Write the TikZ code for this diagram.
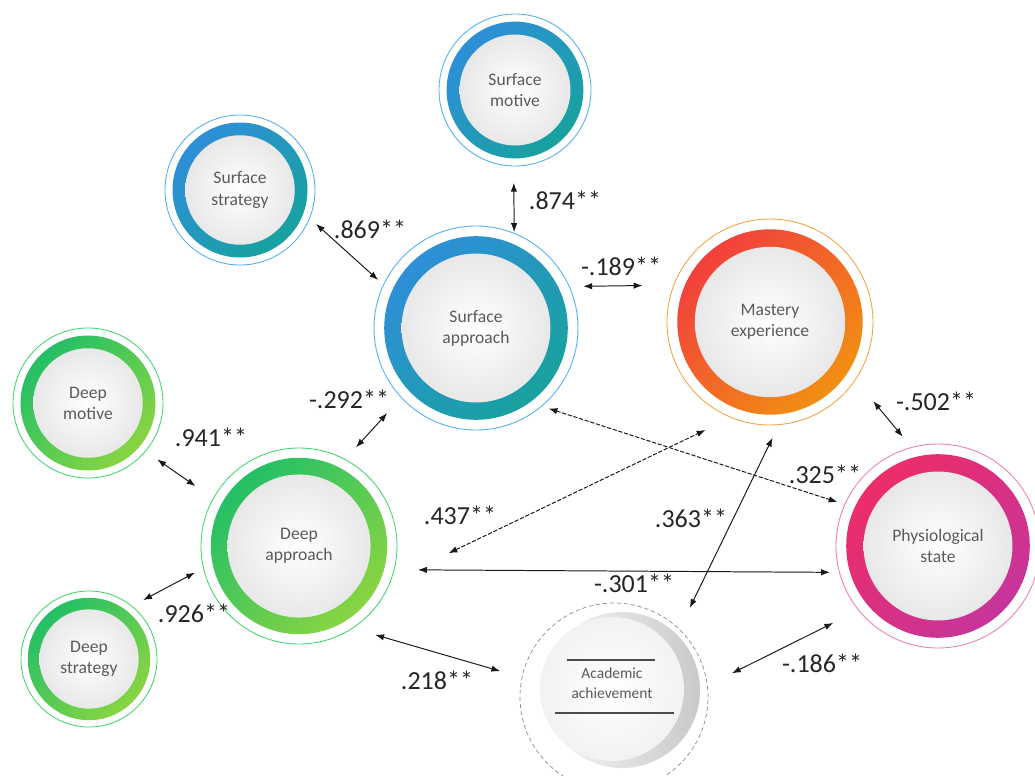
\documentclass[tikz,border=0pt]{standalone}
\usepackage{fontspec}
\setmainfont{Carlito}
\usetikzlibrary{arrows.meta}
\definecolor{txtgray}{HTML}{5A5A5A}
\definecolor{sfthin}{HTML}{4DB0F0}
\definecolor{sfA}{HTML}{2F8EDB}
\definecolor{sfB}{HTML}{17A39B}
\definecolor{dpthin}{HTML}{3ED66C}
\definecolor{dpA}{HTML}{1EBE68}
\definecolor{dpB}{HTML}{8FD640}
\definecolor{msthin}{HTML}{F5A23C}
\definecolor{msA}{HTML}{F23B3F}
\definecolor{msB}{HTML}{F2940F}
\definecolor{phthin}{HTML}{F27BB0}
\definecolor{phA}{HTML}{EE2C66}
\definecolor{phB}{HTML}{C4359E}

\begin{document}
\begin{tikzpicture}[x=0.025cm, y=-0.025cm,
  bub/.style n args={4}{circle, draw=#1, line width=0.6pt, minimum size={2*#2*0.025cm},
              inner sep=0pt, outer sep=0pt, align=center, text=txtgray,
              font=\fontsize{12.5}{15}\selectfont,
              path picture={
                \shade[left color=#3, right color=#4, shading angle=45]
                  (path picture bounding box.center) circle[radius={0.9*#2*0.025cm}];
                \shade[inner color=white, outer color=black!9]
                  (path picture bounding box.center) circle[radius={0.73*#2*0.025cm}];
              }},
  achv/.style={circle, draw=black!45, dash pattern=on 3pt off 2pt, line width=0.5pt,
              minimum size={188*0.025cm}, inner sep=0pt, outer sep=0pt,
              path picture={
                \shade[left color=white, right color=black!22]
                  ([shift={(8,-7)}]path picture bounding box.center) circle[radius={78*0.025cm}];
                \shade[inner color=white, outer color=black!5]
                  ([shift={(-2,-8)}]path picture bounding box.center) circle[radius={72*0.025cm}];
              }},
  txt/.style={align=center, text=txtgray, font=\fontsize{11}{14}\selectfont, inner sep=0pt},
  rulel/.style={draw=black!70, line width=0.9pt},
  arr/.style={{Latex[length=2.2mm,width=1.6mm]}-{Latex[length=2.2mm,width=1.6mm]},
              line width=0.7pt, draw=black!90},
  darr/.style={arr, dash pattern=on 3pt off 1.2pt},
  lab/.style={font=\fontsize{18.5}{22}\selectfont, text=black!85, inner sep=0pt}]

\useasboundingbox[fill=white] (0,0) rectangle (1035,776);

% surface side
\node[bub={sfthin}{76}{sfA}{sfB}] (sm) at (515,90) {Surface\\motive};
\node[bub={sfthin}{75}{sfA}{sfB}] (ss) at (240,190) {Surface\\strategy};
\node[bub={sfthin}{102}{sfA}{sfB}] (sa) at (476,328) {Surface\\approach};

% self-efficacy sources
\node[bub={msthin}{103}{msA}{msB}] (me) at (770,322) {Mastery\\experience};
\node[bub={phthin}{102}{phA}{phB}] (ps) at (938,546) {Physiological\\state};

% deep side
\node[bub={dpthin}{75}{dpA}{dpB}] (dm) at (88,403) {Deep\\motive};
\node[bub={dpthin}{98}{dpA}{dpB}] (da) at (299,546) {Deep\\approach};
\node[bub={dpthin}{68}{dpA}{dpB}] (ds) at (89,659) {Deep\\strategy};

% outcome
\node[achv] (ac) at (614,697) {};
\node[txt] (actxt) at (612,683) {Academic\\achievement};
\draw[rulel] ([shift={(-47,-37)}]ac.center) -- ++(88,0);
\draw[rulel] ([shift={(-59,16)}]ac.center) -- ++(119,0);

% arrows
\draw[arr, shorten <=12pt, shorten >=1pt] (sm.-91.5) -- (sa.68.7);
\draw[arr, shorten <=6.2pt, shorten >=5.2pt] (ss.-22.1) -- (sa.155.1);
\draw[arr, shorten <=10pt, shorten >=22.3pt] (sa.24.3) -- (me.159.5);
\draw[arr, shorten <=11.6pt, shorten >=15pt] (da.62.8) -- (sa.223.1);
\draw[arr, shorten <=10.3pt, shorten >=15.4pt] (dm.-40.4) -- (da.151.7);
\draw[arr, shorten <=9.2pt, shorten >=6.9pt] (ds.51.2) -- (da.193.3);
\draw[arr, shorten <=17pt, shorten >=16.2pt] (da.-57.1) -- (ac.168.6);
\draw[arr, shorten <=19.6pt, shorten >=20.3pt] (ac.7.1) -- (ps.219.1);
\draw[arr, shorten <=20pt, shorten >=9.9pt] (me.-34.4) -- (ps.105.4);
\draw[darr, shorten <=5.3pt, shorten >=5.5pt] (sa.-50.5) -- (ps.156.5);
\draw[darr, shorten <=45.8pt, shorten >=20.5pt] (da.-21.6) -- (me.248.1);
\draw[arr, shorten <=10.4pt, shorten >=17pt] (me.-85.9) -- (ac.46.7);
\draw[arr, shorten <=17pt, shorten >=6.8pt] (da.-14.8) -- (ps.195.3);

% coefficients
\node[lab] (l874) at (565,200) {.874**};
\node[lab] (l869) at (370,229) {.869**};
\node[lab] (l189) at (621,266) {-.189**};
\node[lab] (l292) at (349,399) {-.292**};
\node[lab] (l941) at (211,437) {.941**};
\node[lab] (l926) at (194,613) {.926**};
\node[lab] (l437) at (460,515) {.437**};
\node[lab] (l363) at (691,518) {.363**};
\node[lab] (l325) at (825,474) {.325**};
\node[lab] (l301) at (634,583) {-.301**};
\node[lab] (l502) at (936,401) {-.502**};
\node[lab] (l186) at (822,663) {-.186**};
\node[lab] (l218) at (437,680) {.218**};
\end{tikzpicture}
\end{document}
